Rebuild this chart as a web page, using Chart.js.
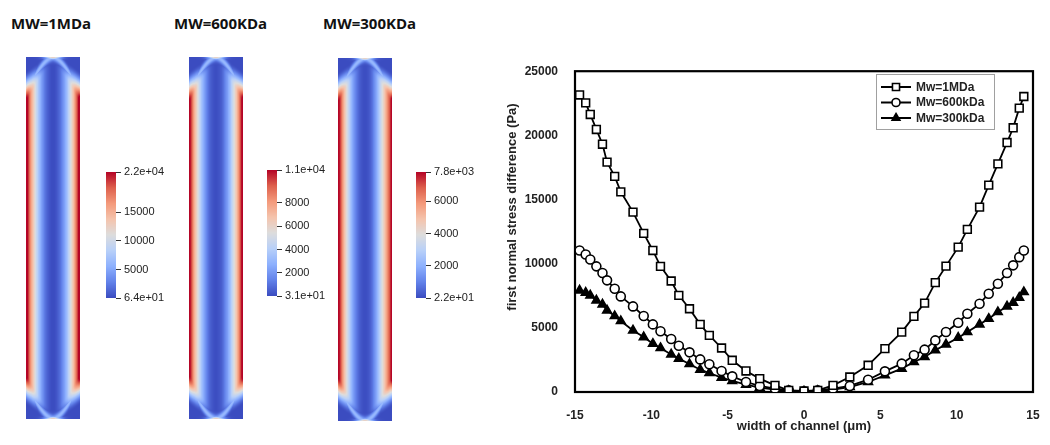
<!DOCTYPE html>
<html>
<head>
<meta charset="utf-8">
<script src="https://cdn.jsdelivr.net/npm/chart.js@4.4.1/dist/chart.umd.min.js"></script>
<style>
    body { margin: 0; background: #fff; width: 1050px; height: 445px; position: relative; overflow: hidden; }
    canvas { position: absolute; }
    .title { position: absolute; font: bold 15px 'Open Sans', sans-serif; color: #111; white-space: nowrap; line-height: 20px; }
</style>
</head>
<body>
<div class="title" id="t0" style="left:11px;top:13px"></div>
<div class="title" id="t1" style="left:174px;top:13px"></div>
<div class="title" id="t2" style="left:323px;top:13px"></div>

<canvas id="field0" width="54" height="362" style="left:26px;top:57px"></canvas>
<canvas id="field1" width="54" height="362" style="left:189px;top:57px"></canvas>
<canvas id="field2" width="54" height="363" style="left:338px;top:58px"></canvas>

<canvas id="bar0" width="90" height="150" style="left:100px;top:160px"></canvas>
<canvas id="bar1" width="90" height="150" style="left:261px;top:158px"></canvas>
<canvas id="bar2" width="90" height="150" style="left:410px;top:160px"></canvas>

<canvas id="chart" width="580" height="390" style="left:470px;top:55px"></canvas>

<script>
// --- Data ---

const panelTitles = ['MW=1MDa', 'MW=600KDa', 'MW=300KDa'];
const seriesLabels = ['Mw=1MDa', 'Mw=600kDa', 'Mw=300kDa'];

// width of channel (um)
const widthUm = [-14.7, -14.3, -14.0, -13.6, -13.2, -12.9, -12.4, -12.0, -11.2, -10.5, -9.9, -9.4, -8.7, -8.2,
    -7.5, -6.8, -6.2, -5.4, -4.7, -3.8, -2.9, -1.9, -1.0, 0, 0.9, 1.9, 3.0, 4.2, 5.3, 6.4, 7.2, 7.9, 8.6,
    9.3, 10.1, 10.7, 11.5, 12.1, 12.7, 13.3, 13.7, 14.1, 14.4];

// first normal stress difference (Pa)
const n1_1MDa = [23150, 22530, 21630, 20460, 19310, 17910, 16800, 15600, 14020, 12360, 11030, 9790, 8650, 7530,
    6490, 5270, 4410, 3430, 2470, 1640, 1040, 520, 130, 80, 130, 520, 1170, 2080, 3380, 4670, 5890, 6930, 8520,
    9810, 11290, 12670, 14410, 16120, 17780, 19440, 20590, 22120, 23030];
const n1_600kDa = [11030, 10720, 10330, 9790, 9270, 8700, 8050, 7450, 6670, 5920, 5270, 4730, 4130, 3610,
    3090, 2540, 2160, 1640, 1220, 780, 470, 260, 130, 50, 130, 260, 470, 960, 1610, 2210, 2860, 3300, 4020,
    4670, 5400, 6100, 6880, 7660, 8440, 9270, 9870, 10510, 11030];
const n1_300kDa = [7920, 7740, 7530, 7140, 6830, 6360, 5920, 5530, 4800, 4280, 3760, 3430, 2930, 2600,
    2180, 1740, 1480, 1120, 860, 570, 340, 180, 80, 50, 80, 180, 390, 780, 1300, 1820, 2340, 2730, 3250,
    3710, 4230, 4670, 5270, 5710, 6230, 6670, 6960, 7350, 7790];

// colour bar ranges and ticks
const barRange0 = [64, 22000];
const barTicks0 = [64, 5000, 10000, 15000, 22000];
const barRange1 = [31, 10800];
const barTicks1 = [31, 2000, 4000, 6000, 8000, 10800];
const barRange2 = [22, 7800];
const barTicks2 = [22, 2000, 4000, 6000, 7800];

const xTicks = [-15, -10, -5, 0, 5, 10, 15];
const yTicks = [0, 5000, 10000, 15000, 20000, 25000];

// --- Colour map (cool to warm) ---

const coolWarm = [
    [0, 59, 76, 192], [0.125, 98, 130, 234], [0.25, 141, 176, 254], [0.375, 184, 208, 249],
    [0.5, 221, 221, 221], [0.625, 245, 196, 173], [0.75, 244, 154, 123], [0.875, 222, 96, 77],
    [1, 180, 4, 38]
];

function colorAt(t) {
    t = Math.max(0, Math.min(1, t));
    for (let i = 1; i < coolWarm.length; i++) {
        const a = coolWarm[i - 1], b = coolWarm[i];
        if (t <= b[0]) {
            const f = (t - a[0]) / (b[0] - a[0]);
            return [a[1] + (b[1] - a[1]) * f, a[2] + (b[2] - a[2]) * f, a[3] + (b[3] - a[3]) * f];
        }
    }
    return coolWarm[coolWarm.length - 1].slice(1);
}

function interp(xs, ys, x) {
    let i = 1;
    while (i < xs.length - 1 && xs[i] < x) i++;
    const f = (x - xs[i - 1]) / (xs[i] - xs[i - 1]);
    return ys[i - 1] + (ys[i] - ys[i - 1]) * f;
}

function smoothstep(a, b, v) {
    const t = Math.max(0, Math.min(1, (v - a) / (b - a)));
    return t * t * (3 - 2 * t);
}

function sci(v) {
    const [m, e] = v.toExponential(1).split('e');
    const n = parseInt(e, 10);
    return m + 'e' + (n < 0 ? '-' : '+') + String(Math.abs(n)).padStart(2, '0');
}

// --- Contour panels ---

function fieldPlugin(series, range) {
    return {
        id: 'field',
        beforeDatasetsDraw(chart) {
            const { ctx, chartArea: a, scales: { x } } = chart;
            const w = Math.round(a.right - a.left), h = Math.round(a.bottom - a.top);
            const img = ctx.createImageData(w, h);
            for (let i = 0; i < w; i++) {
                const xv = x.getValueForPixel(a.left + i + 0.5);
                const base = (interp(widthUm, series, xv) - range[0]) / (range[1] - range[0]);
                const t = Math.min(1, Math.abs(xv) / 15);
                const c = 36 * Math.pow(t, 1.6);
                for (let j = 0; j < h; j++) {
                    const d = Math.min(j + 0.5, h - j - 0.5);
                    let v = base * smoothstep(0.4 * c, c + 10, d);
                    // entry/exit effects near the channel ends
                    const arc = 0.28 * Math.exp(-Math.pow((d - c) / 4, 2));
                    const spot = 0.58 * Math.exp(-Math.pow(d / 2.5, 2)) * Math.exp(-Math.pow(t / 0.3, 2));
                    v = Math.max(v, arc, spot);
                    const col = colorAt(v);
                    const k = (j * w + i) * 4;
                    img.data[k] = col[0];
                    img.data[k + 1] = col[1];
                    img.data[k + 2] = col[2];
                    img.data[k + 3] = 255;
                }
            }
            ctx.putImageData(img, a.left, a.top);
        }
    };
}

function makeField(id, series, range) {
    new Chart(document.getElementById(id), {
        type: 'scatter',
        data: { datasets: [{ data: [] }] },
        options: {
            responsive: false,
            animation: false,
            events: [],
            layout: { padding: 0 },
            plugins: { legend: { display: false }, tooltip: { enabled: false } },
            scales: {
                x: { type: 'linear', min: -15, max: 15, display: false },
                y: { type: 'linear', min: 0, max: 1, display: false }
            }
        },
        plugins: [fieldPlugin(series, range)]
    });
}

function barPlugin(range) {
    return {
        id: 'colorBar',
        beforeDatasetsDraw(chart) {
            const { ctx, chartArea: a, scales: { y } } = chart;
            for (let py = Math.floor(a.top); py < a.bottom; py++) {
                const v = y.getValueForPixel(py + 0.5);
                const col = colorAt((v - range[0]) / (range[1] - range[0]));
                ctx.fillStyle = `rgb(${col[0] | 0},${col[1] | 0},${col[2] | 0})`;
                ctx.fillRect(a.left, py, a.right - a.left, 1);
            }
        }
    };
}

function makeBar(id, range, ticks) {
    new Chart(document.getElementById(id), {
        type: 'scatter',
        data: { datasets: [] },
        options: {
            responsive: false,
            animation: false,
            events: [],
            layout: { padding: { left: 6, top: 12, bottom: 12, right: 0 } },
            plugins: { legend: { display: false }, tooltip: { enabled: false } },
            scales: {
                x: { type: 'linear', min: 0, max: 1, display: false },
                y: {
                    type: 'linear',
                    position: 'right',
                    min: range[0],
                    max: range[1],
                    afterBuildTicks: s => { s.ticks = ticks.map(v => ({ value: v })); },
                    afterFit: s => { s.width = 74; },
                    grid: { drawOnChartArea: false, drawTicks: true, tickLength: 5, color: '#333', lineWidth: 1 },
                    border: { display: false },
                    ticks: {
                        autoSkip: false,
                        padding: 3,
                        color: '#222',
                        font: { family: "'Liberation Sans', Arial, sans-serif", size: 11 },
                        callback: v => (v === range[0] || v === range[1]) ? sci(v) : String(v)
                    }
                }
            }
        },
        plugins: [barPlugin(range)]
    });
}

panelTitles.forEach((t, i) => { document.getElementById('t' + i).textContent = t; });

makeField('field0', n1_1MDa, barRange0);
makeField('field1', n1_600kDa, barRange1);
makeField('field2', n1_300kDa, barRange2);

makeBar('bar0', barRange0, barTicks0);
makeBar('bar1', barRange1, barTicks1);
makeBar('bar2', barRange2, barTicks2);

// --- Line chart ---

const axisFont = { family: "'Liberation Sans', Arial, sans-serif", size: 12, weight: 'bold' };

const framePlugin = {
    id: 'frame',
    beforeDatasetsDraw(chart) {
        const { ctx, chartArea: a } = chart;
        ctx.save();
        ctx.strokeStyle = '#000';
        ctx.lineWidth = 2.2;
        ctx.strokeRect(a.left, a.top, a.right - a.left, a.bottom - a.top);
        // y axis title
        ctx.translate(42, 152);
        ctx.rotate(-Math.PI / 2);
        ctx.fillStyle = '#222';
        ctx.font = "bold 13px 'Liberation Sans', Arial, sans-serif";
        ctx.textAlign = 'center';
        ctx.textBaseline = 'middle';
        ctx.fillText('first normal stress difference (Pa)', 0, 0);
        ctx.restore();
    }
};

const legendPlugin = {
    id: 'boxLegend',
    afterDraw(chart) {
        const ctx = chart.ctx;
        const bx = 406, by = 19, bw = 118, bh = 55;
        ctx.save();
        ctx.fillStyle = '#fff';
        ctx.fillRect(bx, by, bw, bh);
        ctx.strokeStyle = '#a0a0a0';
        ctx.lineWidth = 1;
        ctx.strokeRect(bx + 0.5, by + 0.5, bw, bh);
        chart.data.datasets.forEach((ds, i) => {
            const yy = 32 + i * 15.5;
            ctx.strokeStyle = '#000';
            ctx.lineWidth = 2;
            ctx.beginPath();
            ctx.moveTo(bx + 5, yy);
            ctx.lineTo(bx + 35, yy);
            ctx.stroke();
            ctx.fillStyle = ds.pointBackgroundColor;
            ctx.strokeStyle = ds.pointBorderColor;
            ctx.lineWidth = ds.pointBorderWidth;
            Chart.helpers.drawPoint(ctx, {
                pointStyle: ds.pointStyle, radius: ds.pointRadius - 0.5, rotation: 0, borderWidth: ds.pointBorderWidth
            }, bx + 20, yy);
            ctx.fillStyle = '#222';
            ctx.font = "bold 12px 'Liberation Sans', Arial, sans-serif";
            ctx.textAlign = 'left';
            ctx.textBaseline = 'middle';
            ctx.fillText(ds.label, bx + 40, yy + 0.5);
        });
        ctx.restore();
    }
};

function points(ys) {
    return widthUm.map((x, i) => ({ x, y: ys[i] }));
}

const lineStyle = {
    borderColor: '#000',
    borderWidth: 1.8,
    pointBorderColor: '#000',
    pointBorderWidth: 1.6,
    tension: 0,
    fill: false
};

new Chart(document.getElementById('chart'), {
    type: 'line',
    data: {
        datasets: [
            { ...lineStyle, label: seriesLabels[0], data: points(n1_1MDa), pointStyle: 'rect', pointRadius: 5.5, pointBackgroundColor: '#fff' },
            { ...lineStyle, label: seriesLabels[1], data: points(n1_600kDa), pointStyle: 'circle', pointRadius: 4.5, pointBackgroundColor: '#fff' },
            { ...lineStyle, label: seriesLabels[2], data: points(n1_300kDa), pointStyle: 'triangle', pointRadius: 5, pointBackgroundColor: '#000' }
        ]
    },
    options: {
        responsive: false,
        animation: false,
        events: [],
        layout: { padding: { left: 0, right: 17, top: 16, bottom: 0 } },
        plugins: { legend: { display: false }, tooltip: { enabled: false } },
        scales: {
            x: {
                type: 'linear',
                min: -15,
                max: 15,
                afterBuildTicks: s => { s.ticks = xTicks.map(v => ({ value: v })); },
                afterFit: s => { s.height = 53; },
                grid: { display: false },
                border: { display: false },
                ticks: { padding: 8, color: '#222', font: axisFont, callback: v => String(v) },
                title: {
                    display: true,
                    text: 'width of channel (μm)',
                    color: '#222',
                    font: { family: "'Liberation Sans', Arial, sans-serif", size: 13, weight: 'bold' },
                    padding: { top: 0, bottom: 11 }
                }
            },
            y: {
                type: 'linear',
                min: 0,
                max: 25000,
                afterBuildTicks: s => { s.ticks = yTicks.map(v => ({ value: v })); },
                afterFit: s => { s.width = 105; },
                grid: { display: false },
                border: { display: false },
                ticks: { padding: 9, color: '#222', font: axisFont, callback: v => String(v) }
            }
        }
    },
    plugins: [framePlugin, legendPlugin]
});
</script>
</body>
</html>
